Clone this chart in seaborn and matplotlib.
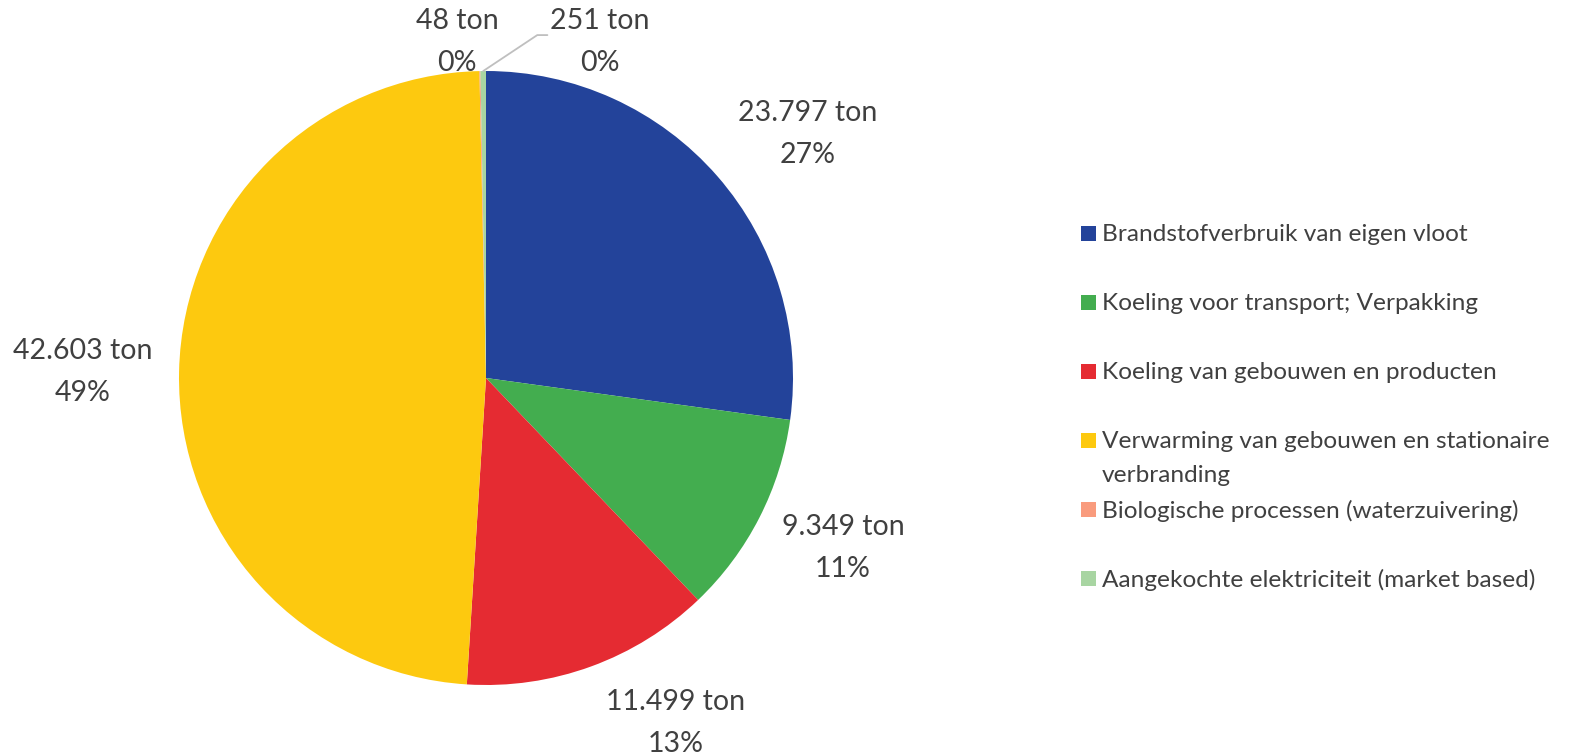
import matplotlib
matplotlib.use("Agg")
import numpy as np
import seaborn as sns
import matplotlib.pyplot as plt
from matplotlib.patches import Rectangle

# Data
categories = [
    "Brandstofverbruik van eigen vloot",
    "Koeling voor transport; Verpakking",
    "Koeling van gebouwen en producten",
    "Verwarming van gebouwen en stationaire\nverbranding",
    "Biologische processen (waterzuivering)",
    "Aangekochte elektriciteit (market based)",
]
tons = [23797, 9349, 11499, 42603, 48, 251]
value_labels = ["23.797 ton", "9.349 ton", "11.499 ton", "42.603 ton", "48 ton", "251 ton"]
pct_labels = ["27%", "11%", "13%", "49%", "0%", "0%"]

colors = ["#23439A", "#43AD4F", "#E52B32", "#FDC90F", "#F99B7D", "#A8D5A2"]
sns.set_theme(style="white")
palette = sns.color_palette(colors)
text_color = "#404040"
plt.rcParams['font.family'] = ['Lato', 'DejaVu Sans']

fig = plt.figure(figsize=(15.71, 7.55), dpi=100)
W, H = 1571, 755
cx, cy, r = 486, 378, 307
ax = fig.add_axes([(cx - r) / W, (H - cy - r) / H, 2 * r / W, 2 * r / H])

wedges, _ = ax.pie(tons, colors=palette, startangle=90, counterclock=False,
                   radius=1, wedgeprops=dict(linewidth=0))
ax.set_xlim(-1, 1)
ax.set_ylim(-1, 1)
ax.set_aspect("equal")
ax.axis("off")

# label positions in pie units (radius = 1)
label_xy = [(1.049, 0.796), (1.163, -0.554), (0.619, -1.125), (-1.313, 0.02),
            (-0.094, 1.094), (0.371, 1.094)]
for (lx, ly), v, p in zip(label_xy, value_labels, pct_labels):
    ax.text(lx, ly, f"{v}\n{p}", ha="center", va="center", fontsize=20.5,
            color=text_color, linespacing=1.75, clip_on=False)

# leader line for the smallest visible slice
w = wedges[5]
mid = np.deg2rad((w.theta1 + w.theta2) / 2)
ax.plot([np.cos(mid), 0.167, 0.2], [np.sin(mid), 1.117, 1.117],
        color="#BFBFBF", linewidth=1.3, clip_on=False)

# legend, equal slots like the original
leg_x, leg_y0, slot = 1081, 233, 69
for i, (cat, col) in enumerate(zip(categories, palette)):
    y = leg_y0 + i * slot
    fig.add_artist(Rectangle((leg_x / W, 1 - (y + 7.5) / H), 15 / W, 15 / H,
                             transform=fig.transFigure, facecolor=col, edgecolor="none"))
    fig.text((leg_x + 21) / W, 1 - (y - 9) / H, cat, ha="left", va="top",
             fontsize=17.6, color=text_color, linespacing=1.75)

fig.savefig("out.png", dpi=100, facecolor="white")
